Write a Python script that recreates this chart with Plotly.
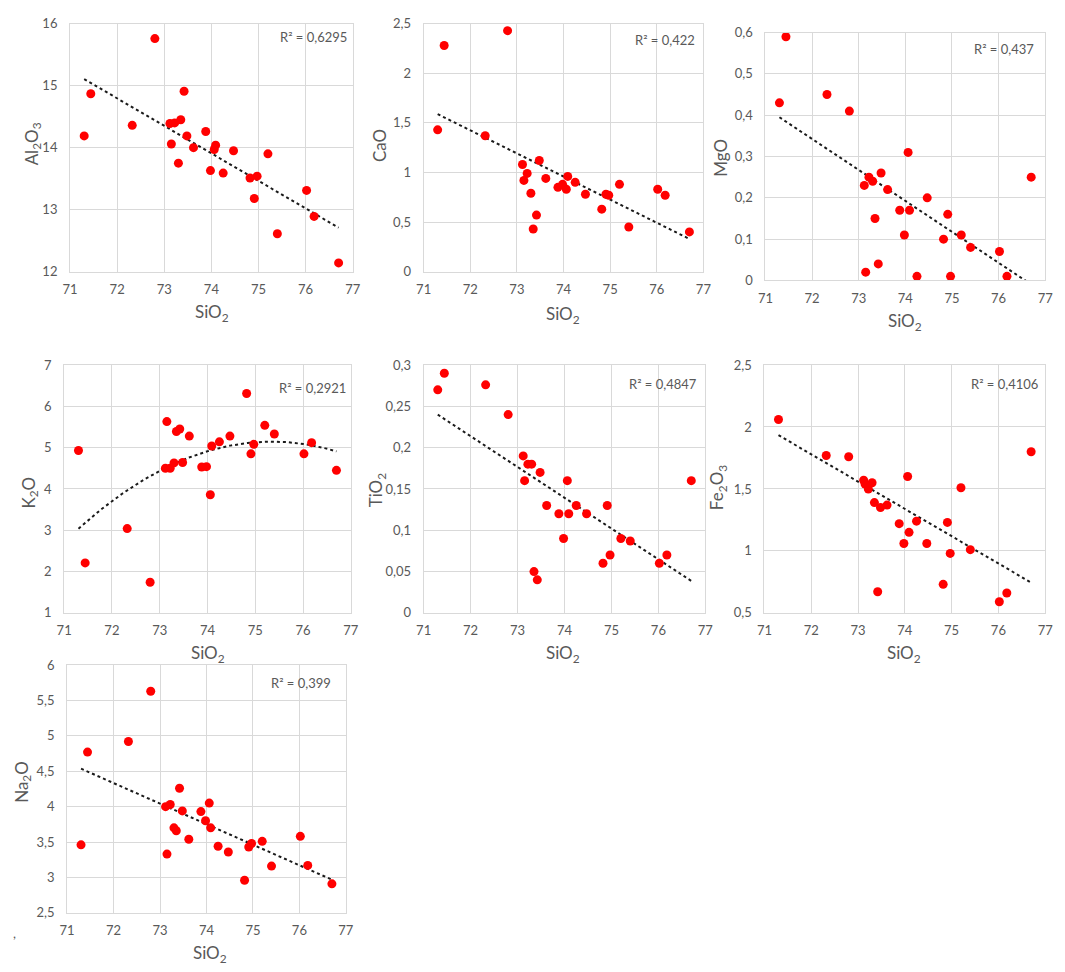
import numpy as np
import plotly.graph_objects as go

W, H = 1065, 972

# ---- data ----
SiO2 = [71.30, 71.44, 72.32, 72.80, 73.12, 73.15, 73.22, 73.30, 73.35, 73.42, 73.48, 73.62, 73.88,
        73.98, 74.06, 74.09, 74.25, 74.47, 74.82, 74.91, 74.97, 75.20, 75.40, 76.02, 76.18, 76.70]
Al2O3 = [14.19, 14.87, 14.36, 15.76, 14.39, 14.06, 14.40, 13.75, 14.45, 14.91, 14.19, 14.00, 14.26,
         13.63, 13.97, 14.04, 13.59, 13.95, 13.51, 13.18, 13.54, 13.90, 12.61, 13.31, 12.89, 12.14]
CaO = [1.43, 2.28, 1.37, 2.43, 1.08, 0.92, 0.99, 0.79, 0.43, 0.57, 1.12, 0.94, 0.85,
       0.88, 0.83, 0.96, 0.90, 0.78, 0.63, 0.78, 0.77, 0.88, 0.45, 0.83, 0.77, 0.40]
MgO = [0.43, 0.59, 0.45, 0.41, 0.23, 0.02, 0.25, 0.24, 0.15, 0.04, 0.26, 0.22, 0.17,
       0.11, 0.31, 0.17, 0.01, 0.20, 0.10, 0.16, 0.01, 0.11, 0.08, 0.07, 0.01, 0.25]
K2O = [4.93, 2.21, 3.04, 1.74, 4.50, 5.63, 4.50, 4.63, 5.39, 5.45, 4.64, 5.28, 4.53,
       4.54, 3.86, 5.04, 5.14, 5.28, 6.31, 4.85, 5.08, 5.54, 5.33, 4.85, 5.12, 4.45]
TiO2 = [0.270, 0.290, 0.276, 0.240, 0.190, 0.160, 0.180, 0.180, 0.050, 0.040, 0.170, 0.130, 0.120,
        0.090, 0.160, 0.120, 0.130, 0.120, 0.060, 0.130, 0.070, 0.090, 0.087, 0.060, 0.070, 0.160]
# the 71.44 sample lies just above the 2.5 axis limit (off-chart, estimated from the trendline)
Fe2O3 = [2.06, 2.57, 1.77, 1.76, 1.57, 1.54, 1.50, 1.55, 1.39, 0.67, 1.35, 1.37, 1.22,
         1.06, 1.60, 1.15, 1.24, 1.06, 0.73, 1.23, 0.98, 1.51, 1.01, 0.59, 0.66, 1.80]
Na2O = [3.46, 4.77, 4.92, 5.63, 4.00, 3.33, 4.03, 3.70, 3.66, 4.26, 3.94, 3.54, 3.93,
        3.80, 4.05, 3.70, 3.44, 3.36, 2.96, 3.43, 3.48, 3.51, 3.16, 3.58, 3.17, 2.91]

y_titles = ["Al<sub>2</sub>O<sub>3</sub>", "CaO", "MgO", "K<sub>2</sub>O", "TiO<sub>2</sub>",
            "Fe<sub>2</sub>O<sub>3</sub>", "Na<sub>2</sub>O"]
x_title = "SiO<sub>2</sub>"
r2_labels = ["R² = 0,6295", "R² = 0,422", "R² = 0,437", "R² = 0,2921", "R² = 0,4847",
             "R² = 0,4106", "R² = 0,399"]
trend_degree = [1, 1, 1, 2, 1, 1, 1]
y_ranges = [(12, 16), (0, 2.5), (0, 0.6), (1, 7), (0, 0.3), (0.5, 2.5), (2.5, 6)]
y_dticks = [1, 0.5, 0.1, 1, 0.05, 0.5, 0.5]
series = [Al2O3, CaO, MgO, K2O, TiO2, Fe2O3, Na2O]

# ---- layout geometry (pixels): left, right, top, bottom of plot area ----
boxes = [(63, 350, 16, 268), (422, 706, 16, 268), (769, 1053, 25, 277),
         (57, 348, 363, 615), (422, 708, 363, 615), (768, 1053, 363, 615),
         (60, 343, 668, 920)]
ytitle_pos = [(25, 138), (377, 140), (723, 152), (22, 493), (375, 490), (721, 488), (15, 787)]
xtitle_pos = [(207, 310), (563, 312), (911, 319), (203, 657), (563, 657), (910, 657), (205, 962)]
r2_pos = [(346, 29), (700, 33), (1044, 42), (345, 386), (702, 382), (1048, 382), (330, 686)]

def px(x):
    return x / W

def py(y):
    return 1 - y / H

GRID = "#d9d9d9"
TXT = "#595959"
FONT = "Lato, Calibri, Carlito, sans-serif"

fig = go.Figure()
layout = dict(width=W, height=H, margin=dict(l=0, r=0, t=0, b=0),
              paper_bgcolor="white", plot_bgcolor="white", showlegend=False,
              separators=", ", font=dict(family=FONT, color=TXT))
annotations = []

for i, ys in enumerate(series):
    n = i + 1
    xa = "x" if n == 1 else f"x{n}"
    ya = "y" if n == 1 else f"y{n}"
    l, r, t, b = boxes[i]
    xs = [x for x, y in zip(SiO2, ys) if y is not None]
    yv = [y for y in ys if y is not None]
    coef = np.polyfit(xs, yv, trend_degree[i])
    xt = np.linspace(min(xs), max(xs), 120)
    fig.add_trace(go.Scatter(x=xt, y=np.polyval(coef, xt), mode="lines",
                             line=dict(color="#1a1a1a", width=2, dash="dot"),
                             xaxis=xa, yaxis=ya, hoverinfo="skip"))
    fig.add_trace(go.Scatter(x=xs, y=yv, mode="markers",
                             marker=dict(color="#ff0000", size=9),
                             xaxis=xa, yaxis=ya))
    kx = "xaxis" if n == 1 else f"xaxis{n}"
    ky = "yaxis" if n == 1 else f"yaxis{n}"
    layout[kx] = dict(domain=[px(l), px(r)], range=[71, 77], dtick=1, tick0=71,
                      anchor=ya, showgrid=True, gridcolor=GRID, gridwidth=1,
                      showline=True, linecolor=GRID, linewidth=1, mirror=True,
                      zeroline=False, ticks="", ticklabelstandoff=6,
                      tickfont=dict(size=13, color=TXT, family=FONT))
    layout[ky] = dict(domain=[py(b), py(t)], range=list(y_ranges[i]), dtick=y_dticks[i],
                      tick0=y_ranges[i][0], anchor=xa, showgrid=True, gridcolor=GRID,
                      gridwidth=1, showline=True, linecolor=GRID, linewidth=1, mirror=True,
                      zeroline=False, ticks="", ticklabelstandoff=9,
                      tickfont=dict(size=13, color=TXT, family=FONT))
    annotations.append(dict(x=px(ytitle_pos[i][0]), y=py(ytitle_pos[i][1]), xref="paper",
                            yref="paper", text=y_titles[i], showarrow=False, textangle=-90,
                            xanchor="center", yanchor="middle",
                            font=dict(size=17, color=TXT, family=FONT)))
    annotations.append(dict(x=px(xtitle_pos[i][0]), y=py(xtitle_pos[i][1]), xref="paper",
                            yref="paper", text=x_title, showarrow=False,
                            xanchor="center", yanchor="middle",
                            font=dict(size=17, color=TXT, family=FONT)))
    annotations.append(dict(x=px(r2_pos[i][0]), y=py(r2_pos[i][1]), xref="paper",
                            yref="paper", text=r2_labels[i], showarrow=False,
                            xanchor="right", yanchor="middle",
                            font=dict(size=13, color=TXT, family=FONT)))

annotations.append(dict(x=px(7), y=py(940), xref="paper", yref="paper", text=",",
                        showarrow=False, xanchor="center", yanchor="middle",
                        font=dict(size=13, color=TXT, family=FONT)))
layout["annotations"] = annotations
fig.update_layout(**layout)
fig.write_html("out.html")
